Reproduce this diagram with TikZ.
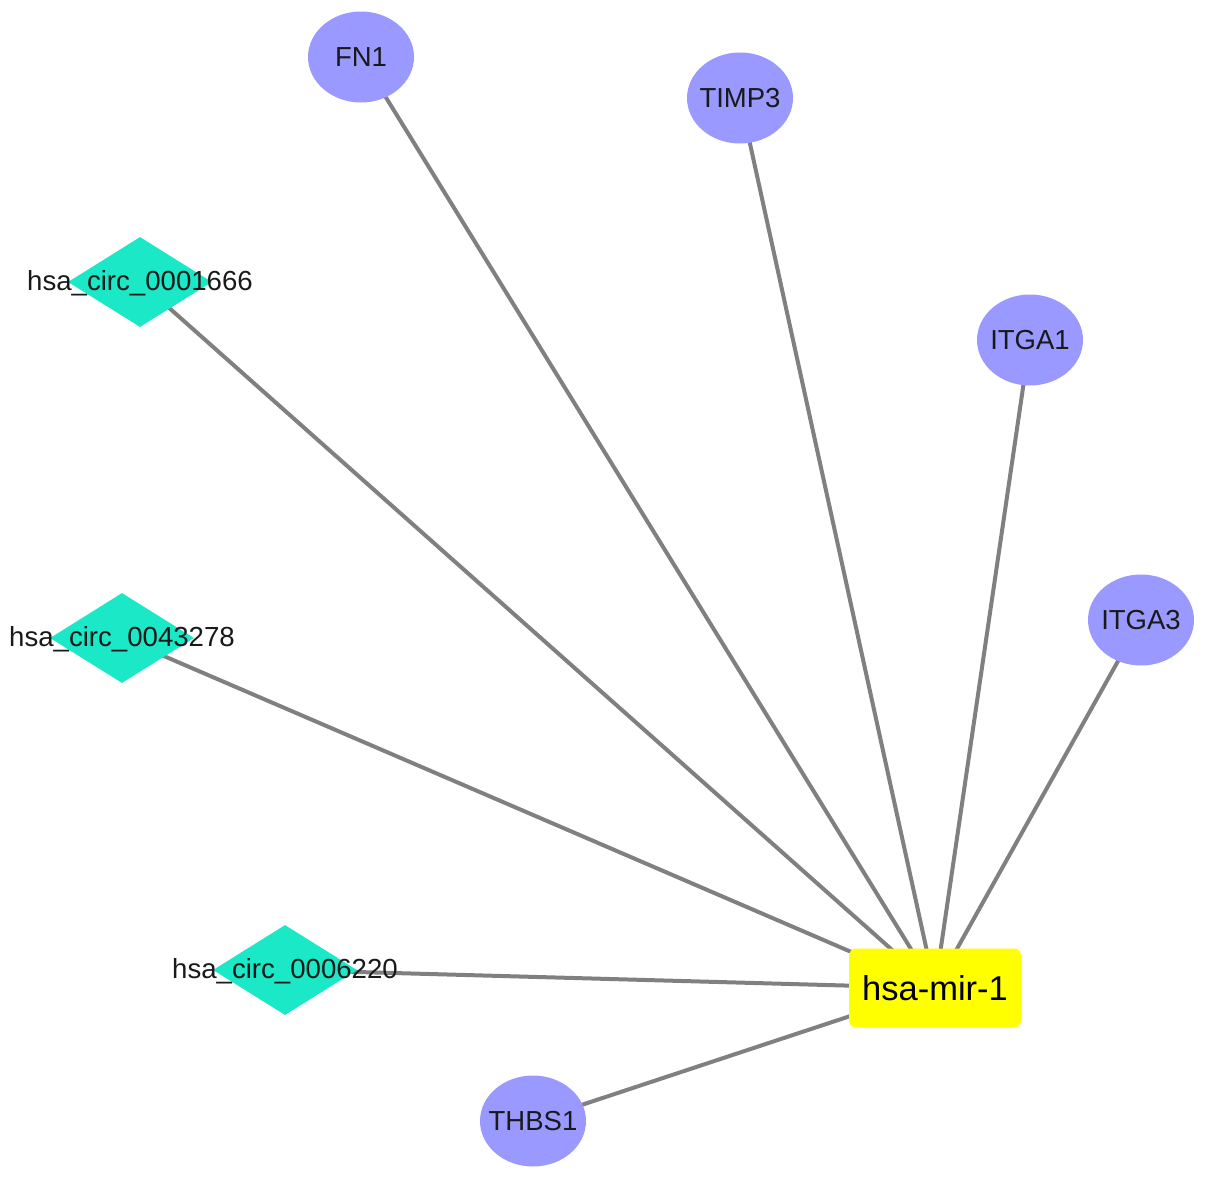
\documentclass[tikz,border=0pt]{standalone}
\usepackage{fontspec}
\setmainfont{Liberation Sans}
\usetikzlibrary{shapes.geometric}
\pgfdeclarelayer{background}
\pgfsetlayers{background,main}
\definecolor{gene}{RGB}{153,153,255}
\definecolor{circ}{RGB}{26,232,198}
\definecolor{mir}{RGB}{255,255,0}
\definecolor{edgegray}{RGB}{128,128,128}
\definecolor{txt}{RGB}{25,25,25}
\tikzset{
  genenode/.style={ellipse, fill=gene, draw=none, minimum width=106pt, minimum height=91pt, inner sep=0pt},
  genelab/.style={text=txt, font=\fontsize{27.5}{31}\selectfont, inner sep=0pt},
  circnode/.style={diamond, fill=circ, draw=none, aspect=1.6, minimum width=144pt, minimum height=90pt, inner sep=0pt},
  circlab/.style={text=txt, font=\fontsize{27.6}{31}\selectfont, inner sep=0pt},
  mirnode/.style={rectangle, rounded corners=7pt, fill=mir, draw=none, minimum width=172pt, minimum height=79pt, inner sep=0pt, text=black, font=\fontsize{34.5}{39}\selectfont},
  link/.style={draw=edgegray, line width=4pt}
}
\begin{document}
\begin{tikzpicture}[x=1pt,y=-1pt]
\useasboundingbox (0,0) rectangle (1205,1181);
\node[mirnode] (mir) at (935,988) {hsa-mir-1};
\node[genenode] (fn1) at (361,57) {};
\node[genenode] (timp3) at (740,98) {};
\node[genenode] (itga1) at (1030,340) {};
\node[genenode] (itga3) at (1141,620) {};
\node[genenode] (thbs1) at (533,1121) {};
\node[genelab] (tfn1) at (fn1) {FN1};
\node[genelab] (ttimp3) at (timp3) {TIMP3};
\node[genelab] (titga1) at (itga1) {ITGA1};
\node[genelab] (titga3) at (itga3) {ITGA3};
\node[genelab] (tthbs1) at (thbs1) {THBS1};
\node[circnode] (c1) at (140,282) {};
\node[circnode] (c2) at (122,638) {};
\node[circnode] (c3) at (285,970) {};
\node[circlab] (l1) at (140,283) {hsa\_circ\_0001666};
\node[circlab] (l2) at (122,639) {hsa\_circ\_0043278};
\node[circlab] (l3) at (285,971) {hsa\_circ\_0006220};
\begin{pgfonlayer}{background}
\foreach \n in {fn1,timp3,itga1,itga3,thbs1,c1,c2,c3}{
  \draw[link] (\n.center) -- (mir.center);
}
\end{pgfonlayer}
\end{tikzpicture}
\end{document}
